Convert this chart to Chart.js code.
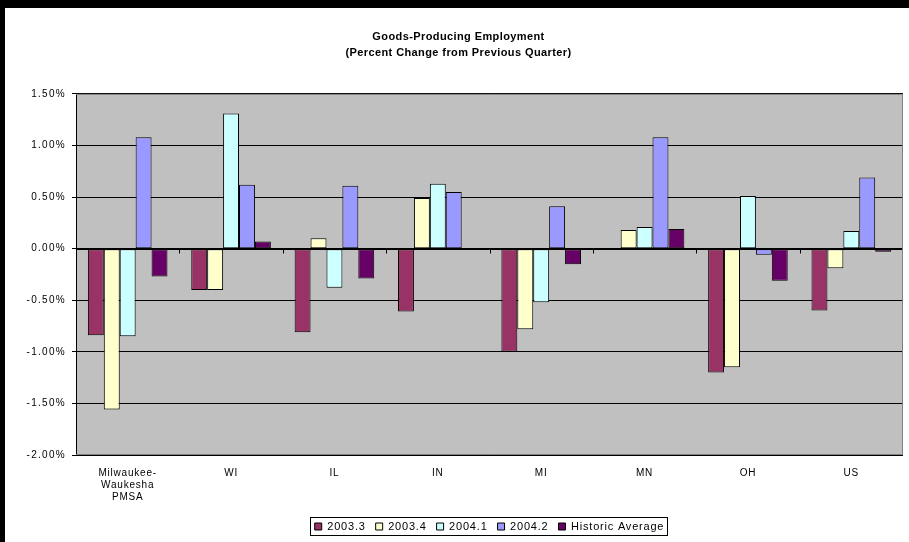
<!DOCTYPE html>
<html>
<head>
<meta charset="utf-8">
<script src="https://cdn.jsdelivr.net/npm/chart.js@4/dist/chart.umd.min.js"></script>
<style>
  body { margin: 0; background: #fff; }
  canvas { display: block; }
</style>
</head>
<body>
<canvas id="goodsChart" width="909" height="542"></canvas>
<script>
// data
const categories = [['Milwaukee-', 'Waukesha', 'PMSA'], 'WI', 'IL', 'IN', 'MI', 'MN', 'OH', 'US'];
const seriesNames = ['2003.3', '2003.4', '2004.1', '2004.2', 'Historic Average'];
const q2003_3 = [-0.84, -0.40, -0.81, -0.61, -1.00, -0.01, -1.20, -0.60];
const q2003_4 = [-1.56, -0.40, 0.10, 0.49, -0.78, 0.18, -1.15, -0.19];
const q2004_1 = [-0.85, 1.31, -0.38, 0.63, -0.52, 0.21, 0.51, 0.17];
const q2004_2 = [1.08, 0.62, 0.61, 0.55, 0.41, 1.08, -0.06, 0.69];
const historicAvg = [-0.27, 0.07, -0.29, -0.01, -0.15, 0.19, -0.31, -0.03];
const yTicks = [1.5, 1.0, 0.5, 0.0, -0.5, -1.0, -1.5, -2.0];

const colors = ['#993366', '#FFFFCC', '#CCFFFF', '#9999FF', '#660066'];
const allSeries = [q2003_3, q2003_4, q2004_1, q2004_2, historicAvg];

const FONT = "'Liberation Sans', Arial, sans-serif";

// Excel spreads its letters out a bit, canvas can do that with letterSpacing
function withSpacing(obj, method, spacing) {
    if (!obj || obj['_sp_' + method]) return;
    const orig = obj[method];
    obj[method] = function(...args) {
        const c = this.ctx;
        const prev = c.letterSpacing;
        c.letterSpacing = spacing;
        const r = orig.apply(this, args);
        c.letterSpacing = prev;
        return r;
    };
    obj['_sp_' + method] = true;
}

// page frame, plot background, plot border, legend box, category tick marks
const excelLook = {
    id: 'excelLook',
    beforeUpdate(chart) {
        chart.ctx.letterSpacing = '0.8px';
    },
    afterLayout(chart) {
        const a = chart.chartArea;
        const lg = chart.legend;
        const mid = (a.left + a.right) / 2;
        const w = lg.right - lg.left;
        lg.left = mid - w / 2;
        lg.right = mid + w / 2;
        // title sits a little right of the canvas middle
        chart.titleBlock.left += 7;
        chart.titleBlock.right += 7;
        withSpacing(chart.scales.y, 'drawLabels', '1.3px');
        withSpacing(chart.titleBlock, 'draw', '0.4px');
    },
    beforeDraw(chart) {
        const ctx = chart.ctx;
        const a = chart.chartArea;
        ctx.letterSpacing = '0.8px';
        ctx.save();
        ctx.fillStyle = '#fff';
        ctx.fillRect(0, 0, chart.width, chart.height);
        ctx.fillStyle = '#000';
        ctx.fillRect(0, 0, chart.width, 8);
        ctx.fillRect(0, 0, 5, chart.height);
        ctx.fillStyle = '#C0C0C0';
        ctx.fillRect(a.left, a.top, a.right - a.left, a.bottom - a.top);
        ctx.restore();
    },
    afterDatasetsDraw(chart) {
        const ctx = chart.ctx;
        const a = chart.chartArea;
        const y0 = Math.round(chart.scales.y.getPixelForValue(0)) + 0.5;
        ctx.save();
        ctx.strokeStyle = '#000';
        ctx.lineWidth = 1;
        ctx.beginPath();
        ctx.moveTo(a.left, y0);
        ctx.lineTo(a.right, y0);
        const step = (a.right - a.left) / categories.length;
        for (let i = 1; i < categories.length; i++) {
            const px = Math.round(a.left + step * i) + 0.5;
            ctx.moveTo(px, y0);
            ctx.lineTo(px, y0 + 4);
        }
        ctx.stroke();
        ctx.strokeStyle = '#808080';
        ctx.beginPath();
        ctx.moveTo(a.left, a.top + 0.5);
        ctx.lineTo(a.right - 0.5, a.top + 0.5);
        ctx.lineTo(a.right - 0.5, a.bottom - 0.5);
        ctx.lineTo(a.left, a.bottom - 0.5);
        ctx.stroke();
        ctx.restore();
    },
    afterDraw(chart) {
        const lg = chart.legend;
        if (!lg || !lg.legendHitBoxes.length) return;
        const boxes = lg.legendHitBoxes;
        const first = boxes[0];
        const last = boxes[boxes.length - 1];
        const ctx = chart.ctx;
        ctx.save();
        ctx.strokeStyle = '#000';
        ctx.lineWidth = 1;
        const left = Math.round(first.left) - 4.5;
        const right = Math.round(last.left + last.width) + 3.5;
        const top = Math.round(first.top) - 3.5;
        const bottom = Math.round(first.top + first.height) + 3.5;
        ctx.strokeRect(left, top, right - left, bottom - top);
        ctx.restore();
    }
};

const ctx = document.getElementById('goodsChart').getContext('2d');

new Chart(ctx, {
    type: 'bar',
    data: {
        labels: categories,
        datasets: seriesNames.map((name, i) => ({
            label: name,
            data: allSeries[i],
            backgroundColor: colors[i],
            borderColor: '#000',
            borderWidth: 1,
            borderSkipped: false,
            barPercentage: 1.0,
            categoryPercentage: 0.77
        }))
    },
    options: {
        responsive: false,
        animation: false,
        events: [],
        layout: {
            padding: { left: 0, right: 6, top: 0, bottom: 0 }
        },
        scales: {
            x: {
                grid: { display: false, drawTicks: false },
                border: { display: false },
                ticks: {
                    color: '#000',
                    padding: 12,
                    maxRotation: 0,
                    autoSkip: false,
                    font: { family: FONT, size: 10 }
                },
                afterFit: s => { s.height = 56; }
            },
            y: {
                min: -2,
                max: 1.5,
                afterBuildTicks: s => { s.ticks = yTicks.map(v => ({ value: v })); },
                grid: { color: '#000', tickLength: 4, drawOnChartArea: true },
                border: { color: '#000' },
                ticks: {
                    color: '#000',
                    padding: 6,
                    font: { family: FONT, size: 10 },
                    callback: v => v.toFixed(2) + '%'
                },
                afterFit: s => { s.width = 76; }
            }
        },
        plugins: {
            tooltip: { enabled: false },
            title: {
                display: true,
                text: ['Goods-Producing Employment', '(Percent Change from Previous Quarter)'],
                color: '#000',
                font: { family: FONT, size: 11, weight: 'bold', lineHeight: 1.45 },
                padding: { top: 29, bottom: 33 }
            },
            legend: {
                position: 'bottom',
                labels: {
                    color: '#000',
                    boxWidth: 7,
                    boxHeight: 7,
                    padding: 10,
                    font: { family: FONT, size: 11 }
                }
            }
        }
    },
    plugins: [excelLook]
});
</script>
</body>
</html>
